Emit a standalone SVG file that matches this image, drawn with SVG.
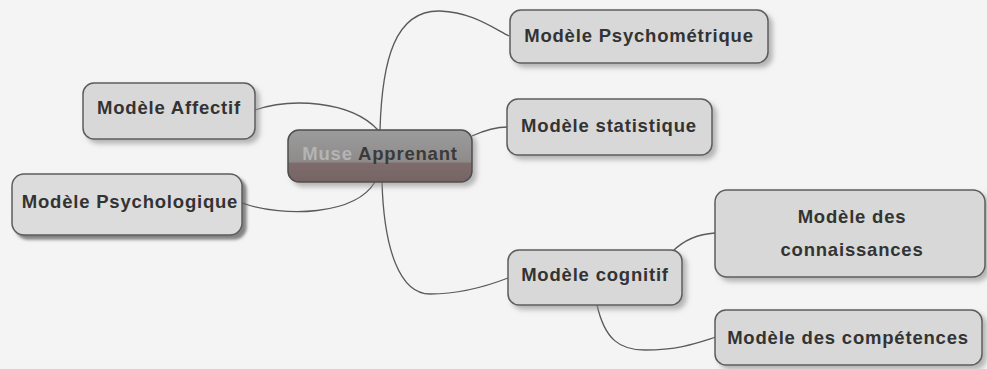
<svg xmlns="http://www.w3.org/2000/svg" width="987" height="369" viewBox="0 0 987 369">
  <defs>
    <filter id="shadow" x="-10%" y="-20%" width="130%" height="160%">
      <feDropShadow dx="4" dy="4" stdDeviation="2.5" flood-color="#8a8a8a" flood-opacity="0.6"/>
    </filter>
    <filter id="shadowDark" x="-10%" y="-20%" width="130%" height="160%">
      <feDropShadow dx="4" dy="4" stdDeviation="1.5" flood-color="#555" flood-opacity="0.7"/>
    </filter>
    <linearGradient id="centerFill" x1="0" y1="0" x2="0" y2="1">
      <stop offset="0" stop-color="#9c9c9c"/>
      <stop offset="0.62" stop-color="#8e8a8a"/>
      <stop offset="0.63" stop-color="#7e6c6c"/>
      <stop offset="1" stop-color="#766464"/>
    </linearGradient>
  </defs>
  <style>
    .box { fill: #d8d8d8; stroke: #5c5c5c; stroke-width: 1.5; filter: url(#shadow); }
    .label { font-family: "Liberation Sans", Arial, sans-serif; font-weight: bold; font-size: 18.5px; letter-spacing: 0.8px; fill: #333; text-anchor: middle; }
    .link { fill: none; stroke: #5a5a5a; stroke-width: 1.3; }
  </style>

  <rect width="987" height="369" fill="#f4f4f4"/>

  <g id="connectors">
    <path class="link" d="M380,130 C382,60 395,10 440,11 C470,12 490,26 509,36"/>
    <path class="link" d="M472,136 C485,130 495,127 508,127"/>
    <path class="link" d="M255,110 C290,98 350,100 378,130"/>
    <path class="link" d="M242,203 C285,218 355,215 375,182"/>
    <path class="link" d="M382,182 C384,250 400,294 430,294 C460,294 490,285 508,278"/>
    <path class="link" d="M673,251 C686,238 700,234 715,233"/>
    <path class="link" d="M597,305 C605,340 620,350 645,350 C680,350 700,342 716,337"/>
  </g>

  <g id="node-psychometrique">
    <rect class="box" x="510" y="10" width="258" height="53" rx="11"/>
    <text class="label" x="639" y="42">Modèle Psychométrique</text>
  </g>

  <g id="node-statistique">
    <rect class="box" x="507" y="99" width="205" height="56" rx="11"/>
    <text class="label" x="609" y="132">Modèle statistique</text>
  </g>

  <g id="node-affectif">
    <rect class="box" x="83" y="83" width="172" height="56" rx="11"/>
    <text class="label" x="169" y="114">Modèle Affectif</text>
  </g>

  <g id="node-psychologique">
    <rect x="12" y="174" width="230" height="61" rx="12" fill="#dcdcdc" stroke="#5c5c5c" stroke-width="1.5" filter="url(#shadowDark)"/>
    <text class="label" x="130" y="208" letter-spacing="1.2">Modèle Psychologique</text>
  </g>

  <g id="node-apprenant">
    <rect x="288" y="130" width="184" height="52" rx="11" fill="url(#centerFill)" stroke="#4e4e4e" stroke-width="1.5" filter="url(#shadow)"/>
    <text class="label" x="380" y="160"><tspan fill="#b4b4b4">Muse </tspan><tspan fill="#3a3a3a">Apprenant</tspan></text>
  </g>

  <g id="node-cognitif">
    <rect class="box" x="508" y="250" width="174" height="55" rx="11"/>
    <text class="label" x="595" y="281">Modèle cognitif</text>
  </g>

  <g id="node-connaissances">
    <rect class="box" x="715" y="190" width="270" height="87" rx="12"/>
    <text class="label" x="852" y="223">Modèle des</text>
    <text class="label" x="852" y="256">connaissances</text>
  </g>

  <g id="node-competences">
    <rect class="box" x="715" y="310" width="267" height="55" rx="11"/>
    <text class="label" x="848" y="344">Modèle des compétences</text>
  </g>
</svg>
